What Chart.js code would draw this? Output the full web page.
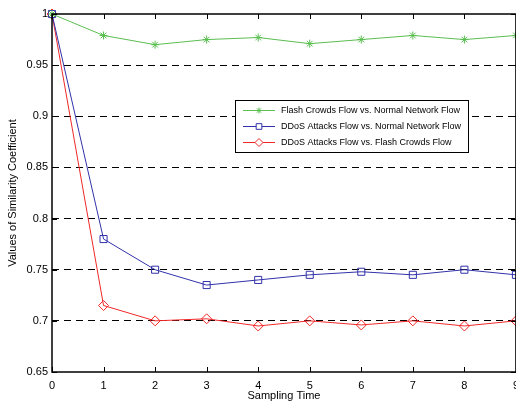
<!DOCTYPE html>
<html><head><meta charset="utf-8">
<script src="https://cdn.jsdelivr.net/npm/chart.js@4.4.0/dist/chart.umd.min.js"></script>
<style>html,body{margin:0;padding:0;background:#fff;overflow:hidden}#wrap{width:516px;height:403px;position:relative;overflow:hidden}</style>
</head><body><div id="wrap"><canvas id="c" width="526" height="403"></canvas></div>
<script>
const samplingTimes = [0,1,2,3,4,5,6,7,8,9];
const seriesLabels = ["Flash Crowds Flow vs. Normal Network Flow","DDoS Attacks Flow vs. Normal Network Flow","DDoS Attacks Flow vs. Flash Crowds Flow"];
const flashVsNormal = [1,0.979,0.970,0.975,0.977,0.971,0.975,0.979,0.975,0.979];
const ddosVsNormal = [1,0.780,0.750,0.735,0.740,0.745,0.748,0.745,0.750,0.745];
const ddosVsFlash = [1,0.715,0.700,0.702,0.695,0.700,0.696,0.700,0.695,0.700];
const yTicks = [0.65,0.7,0.75,0.8,0.85,0.9,0.95,1];
const xTitle = "Sampling Time";
const yTitle = "Values of Similarity Coefficient";

const colors = ["rgb(90,190,80)","rgb(50,50,170)","rgb(240,40,40)"];
const styles = ["star","rect","rectRot"];
const radii = [4,5,5];
const allSeries = [flashVsNormal, ddosVsNormal, ddosVsFlash];
const FONT = "Liberation Sans, Arial, sans-serif";

const datasets = allSeries.map((s,i)=>({
  label: seriesLabels[i],
  data: s.map((v,j)=>({x:samplingTimes[j], y:v})),
  borderColor: colors[i], backgroundColor: 'rgba(0,0,0,0)',
  borderWidth: 1, pointStyle: styles[i], pointRadius: radii[i],
  pointBorderColor: colors[i], pointBorderWidth: 1, pointBackgroundColor:'rgba(0,0,0,0)',
  tension: 0, clip: false
}));

const frame = {
  id:'frame',
  afterDraw(chart){
    const {ctx, chartArea:a, scales:{x,y}} = chart;
    ctx.save();
    ctx.strokeStyle='#000'; ctx.lineWidth=1;
    samplingTimes.forEach(t=>{
      const px=Math.round(x.getPixelForValue(t))+0.5;
      ctx.beginPath(); ctx.moveTo(px,a.bottom); ctx.lineTo(px,a.bottom-5);
      ctx.moveTo(px,a.top); ctx.lineTo(px,a.top+5); ctx.stroke();
    });
    yTicks.forEach(t=>{
      const py=Math.round(y.getPixelForValue(t))+0.5;
      ctx.beginPath(); ctx.moveTo(a.left,py); ctx.lineTo(a.left+5,py);
      ctx.moveTo(a.right,py); ctx.lineTo(a.right-5,py); ctx.stroke();
    });
    ctx.lineWidth=1.5;
    ctx.strokeRect(a.left, a.top, a.right-a.left, a.bottom-a.top);
    // legend
    const lx=235, ly=100, lw=233, lh=52;
    ctx.fillStyle='#fff'; ctx.fillRect(lx,ly,lw,lh);
    ctx.lineWidth=1; ctx.strokeStyle='#000';
    ctx.strokeRect(lx+0.5,ly+0.5,lw,lh);
    ctx.font='9px '+FONT; ctx.textBaseline='middle'; ctx.textAlign='left';
    seriesLabels.forEach((lab,i)=>{
      const yy=ly+10.5+i*16;
      ctx.strokeStyle=colors[i]; ctx.lineWidth=1;
      ctx.beginPath(); ctx.moveTo(lx+8,yy); ctx.lineTo(lx+40,yy); ctx.stroke();
      ctx.fillStyle='#fff';
      Chart.helpers.drawPoint(ctx,{pointStyle:styles[i],radius:radii[i]-1,borderWidth:1},lx+24,yy);
      ctx.fillStyle='#000'; ctx.fillText(lab,lx+46,yy+0.5);
    });
    ctx.restore();
  }
};

new Chart(document.getElementById('c'),{
  type:'line',
  data:{datasets},
  plugins:[frame],
  options:{
    responsive:false, animation:false,
    layout:{padding:{top:14,right:0,left:0,bottom:0}},
    plugins:{legend:{display:false},tooltip:{enabled:false}},
    scales:{
      x:{type:'linear',min:0,max:9,
        afterFit(s){s.height=31;},
        afterBuildTicks(s){s.ticks=samplingTimes.map(v=>({value:v}));},
        grid:{display:false,drawTicks:false},border:{display:false},
        ticks:{color:'#000',font:{size:11,family:FONT},padding:7,maxRotation:0,autoSkip:false},
        title:{display:true,text:xTitle,color:'#000',font:{size:11,family:FONT},padding:{top:0,bottom:0}}
      },
      y:{min:0.65,max:1,
        afterFit(s){s.width=52;},
        afterBuildTicks(s){s.ticks=yTicks.map(v=>({value:v}));},
        grid:{drawTicks:false,color:(c)=> (c.tick && (c.tick.value<0.66||c.tick.value>0.99))?'rgba(0,0,0,0)':'#000',lineWidth:1},
        border:{display:false,dash:[7,5]},
        ticks:{color:'#000',font:{size:11,family:FONT},padding:4,callback:v=>String(+v.toFixed(2))},
        title:{display:true,text:yTitle,color:'#000',font:{size:11,family:FONT},padding:{top:6,bottom:0}}
      }
    }
  }
});
</script></body></html>
